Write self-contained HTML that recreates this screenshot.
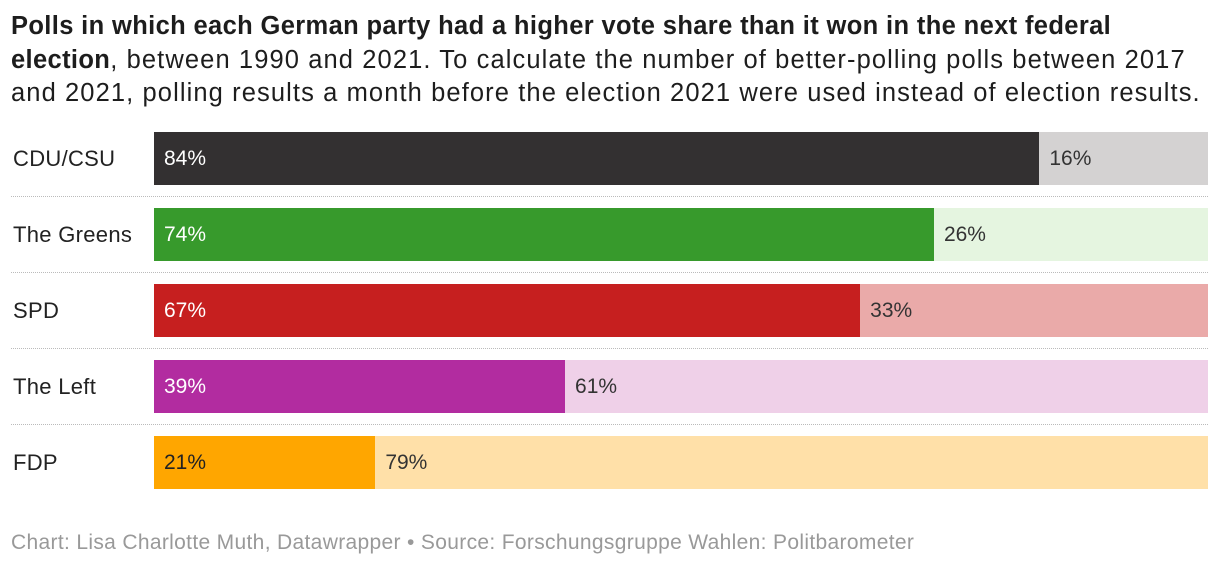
<!DOCTYPE html>
<html><head><meta charset="utf-8">
<style>
body{margin:0;width:1220px;height:566px;background:#fff;font-family:"Liberation Sans",sans-serif;overflow:hidden;position:relative}
#title{position:absolute;left:11px;top:10px;width:1210px;font-size:25.5px;line-height:33.5px;color:#1d1d1d;white-space:nowrap;letter-spacing:1.1px}
#title b{font-weight:bold;letter-spacing:0.36px}
.lbl{position:absolute;left:13px;font-size:22px;line-height:53px;color:#222;letter-spacing:0.3px}
.sep{position:absolute;left:11px;width:1197px;border-top:1px dotted #bbb;height:0}
.bar{position:absolute;height:53px}
.val{position:absolute;font-size:21px;line-height:53px}
#footer{position:absolute;left:11px;top:531px;font-size:21px;color:#999;white-space:nowrap;letter-spacing:0.33px}
</style></head><body>
<div id="title"><b>Polls in which each German party had a higher vote share than it won in the next federal</b><br><b>election</b>, between 1990 and 2021. To calculate the number of better-polling polls between 2017<br>and 2021, polling results a month before the election 2021 were used instead of election results.</div>
<div id="chart"></div>
<div id="footer">Chart: Lisa Charlotte Muth, Datawrapper • Source: Forschungsgruppe Wahlen: Politbarometer</div>
<script>
const parties=["CDU/CSU","The Greens","SPD","The Left","FDP"];
const higherShare=[84,74,67,39,21];
const darkColors=["#333031","#379a2c","#c61f1f","#b22ca0","#ffa600"];
const lightColors=["#d4d2d2","#e5f5e0","#eaaaa9","#efd0e8","#ffe0a8"];
const chart=document.getElementById('chart');
const x0=154,x1=1208,top0=132,step=76,bh=53;
function xs(v){return x0+(x1-x0)*v/100;}
parties.forEach((p,i)=>{
  const y=top0+i*step;
  const l=document.createElement('div');l.className='lbl';l.style.top=y+'px';l.textContent=p;
  
  
  chart.appendChild(l);
  const v=higherShare[i];
  const b1=document.createElement('div');b1.className='bar';
  b1.style.left=x0+'px';b1.style.top=y+'px';b1.style.width=(xs(v)-x0)+'px';b1.style.background=darkColors[i];
  
  
  chart.appendChild(b1);
  const b2=document.createElement('div');b2.className='bar';
  b2.style.left=xs(v)+'px';b2.style.top=y+'px';b2.style.width=(x1-xs(v))+'px';b2.style.background=lightColors[i];
  
  
  chart.appendChild(b2);
  const t1=document.createElement('div');t1.className='val';
  t1.style.left=(x0+10)+'px';t1.style.top=y+'px';t1.style.color=(i==4)?'#222':'#fff';t1.textContent=v+'%';
  
  
  chart.appendChild(t1);
  const t2=document.createElement('div');t2.className='val';
  t2.style.left=(xs(v)+10)+'px';t2.style.top=y+'px';t2.style.color='#333';t2.textContent=(100-v)+'%';
  
  
  chart.appendChild(t2);
  if(i<parties.length-1){
    const s=document.createElement('div');s.className='sep';s.style.top=(y+bh+11)+'px';
    
    
    chart.appendChild(s);
  }
});
</script>
</body></html>
